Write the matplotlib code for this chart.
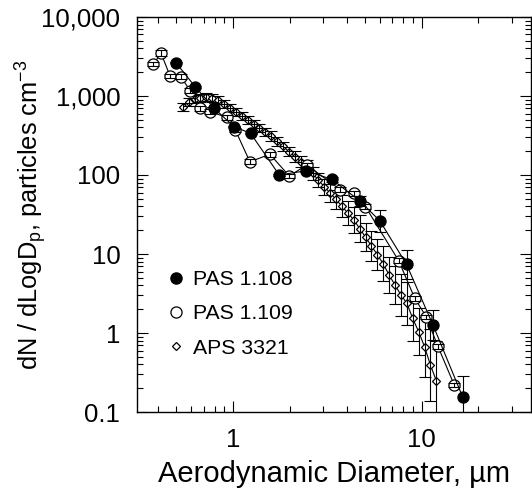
import numpy as np
import matplotlib
matplotlib.use("Agg")
import matplotlib.pyplot as plt
from matplotlib.lines import Line2D
from matplotlib.ticker import LogLocator, FixedLocator, FixedFormatter, NullFormatter

plt.rcParams['font.family'] = ['Liberation Sans', 'DejaVu Sans']
plt.rcParams['mathtext.fontset'] = 'custom'
plt.rcParams['mathtext.rm'] = 'Liberation Sans'

# PAS 1.108 (filled circles)
p108_d = [0.499, 0.630, 0.796, 1.01, 1.24, 1.76, 2.44, 3.35, 4.70, 6.0, 8.32, 11.5, 16.5]
p108_n = [2640, 1310, 698, 410, 337, 100, 113, 88, 47, 26.4, 7.4, 1.26, 0.156]
p108_h = [0.01, 0.01, 0.01, 0.01, 0.01, 0.01, 0.02, 0.03, 0.06, 0.14, 0.18, 0.19, 0.26]  # half width, decades

# PAS 1.109 (open circles)
p109_d = [0.379, 0.416, 0.464, 0.529, 0.593, 0.665, 0.757, 0.929, 1.03, 1.23, 1.57,
          1.99, 2.46, 3.71, 4.37, 5.04, 7.57, 9.2, 10.6, 12.2, 14.9]
p109_n = [2540, 3470, 1790, 1750, 1170, 698, 632, 537, 370, 147, 183,
          97, 134, 65, 58.6, 39.7, 8.2, 2.75, 1.6, 0.68, 0.22]
p109_h = [0.03, 0.04, 0.03, 0.03, 0.03, 0.03, 0.03, 0.03, 0.03, 0.03, 0.03,
          0.03, 0.03, 0.03, 0.03, 0.03, 0.03, 0.03, 0.03, 0.03, 0.03]

# APS 3321 (open diamonds)
aps_d = [0.542, 0.583, 0.626, 0.673, 0.723, 0.777, 0.835, 0.898, 0.965, 1.037, 1.114,
         1.197, 1.286, 1.382, 1.486, 1.596, 1.715, 1.843, 1.981, 2.129, 2.288, 2.458,
         2.642, 2.839, 3.051, 3.278, 3.523, 3.786, 4.068, 4.371, 4.698, 5.048, 5.425,
         5.829, 6.264, 6.732, 7.234, 7.774, 8.354, 8.977, 9.647, 10.37, 11.14, 11.97]
aps_n = [733, 850, 920, 950, 960, 940, 880, 790, 700, 620, 555,
         495, 440, 392, 350, 310, 267, 230, 198, 171, 147, 127,
         105, 86, 71, 59, 49, 40, 33, 27, 21, 16.3, 12.6,
         9.8, 7.5, 5.4, 4.05, 3.03, 2.38, 1.53, 1.04, 0.67, 0.394, 0.249]
aps_h = [0.05, 0.05, 0.05, 0.05, 0.05, 0.05, 0.05, 0.05, 0.05, 0.05, 0.05,
         0.05, 0.05, 0.05, 0.05, 0.06, 0.06, 0.06, 0.06, 0.07, 0.07, 0.08,
         0.08, 0.09, 0.10, 0.11, 0.12, 0.14, 0.15, 0.16, 0.17, 0.18, 0.19,
         0.20, 0.22, 0.23, 0.24, 0.26, 0.27, 0.28, 0.30, 0.38, 0.46, 0.50]

y_ticks = [0.1, 1, 10, 100, 1000, 10000]
y_labels = ['0.1', '1', '10', '100', '1,000', '10,000']
x_ticks = [1, 10]
x_labels = ['1', '10']


def log_err(vals, dec):
    vals = np.array(vals, dtype=float)
    dec = np.array(dec, dtype=float)
    return [vals - vals / 10 ** dec, vals * 10 ** dec - vals]


fig = plt.figure(figsize=(5.32, 4.99), dpi=100)
ax = fig.add_axes([0.2575, 0.1743, 0.7405, 0.7917])

series = [
    (aps_d, aps_n, aps_h, 'D', 4.2, 'white', 2),
    (p109_d, p109_n, p109_h, 'o', 8, 'white', 4),
    (p108_d, p108_n, p108_h, 'o', 8, 'black', 6),
]
for d, n, h, mk, ms, fc, z in series:
    ax.plot(d, n, '-', color='black', lw=0.8, marker=mk, ms=ms, mfc=fc,
            mec='black', mew=0.9, zorder=z)
    ax.errorbar(d, n, yerr=log_err(n, h), fmt='none', ecolor='black',
                elinewidth=0.8, capsize=4, capthick=0.8, zorder=z + 1)

ax.set_xscale('log')
ax.set_yscale('log')
ax.set_xlim(0.31, 38)
ax.set_ylim(0.1, 10000)

ax.xaxis.set_major_locator(FixedLocator(x_ticks))
ax.xaxis.set_major_formatter(FixedFormatter(x_labels))
ax.xaxis.set_minor_locator(LogLocator(base=10, subs=np.arange(2, 10)))
ax.xaxis.set_minor_formatter(NullFormatter())
ax.yaxis.set_major_locator(FixedLocator(y_ticks))
ax.yaxis.set_major_formatter(FixedFormatter(y_labels))
ax.yaxis.set_minor_locator(LogLocator(base=10, subs=np.arange(2, 10)))
ax.yaxis.set_minor_formatter(NullFormatter())

ax.tick_params(which='both', direction='in', top=True, right=True, width=0.8)
ax.tick_params(which='major', length=8, labelsize=18.5)
ax.tick_params(which='minor', length=4.5)
ax.tick_params(axis='x', which='major', pad=11.5)
ax.tick_params(axis='y', which='major', pad=12)
for s in ax.spines.values():
    s.set_linewidth(1.0)

ax.set_xlabel('Aerodynamic Diameter, µm', fontsize=21, labelpad=6)
ax.set_ylabel(r'dN / dLogD$_\mathregular{p}$, particles cm$^\mathregular{-3}$',
              fontsize=18.3)
ax.yaxis.set_label_coords(-0.223, 0.5)

handles = [
    Line2D([], [], ls='none', marker='o', ms=8, mfc='black', mec='black'),
    Line2D([], [], ls='none', marker='o', ms=8, mfc='white', mec='black', mew=0.9),
    Line2D([], [], ls='none', marker='D', ms=4.2, mfc='white', mec='black', mew=0.9),
]
ax.legend(handles, ['PAS 1.108', 'PAS 1.109', 'APS 3321'], loc='lower left',
          bbox_to_anchor=(0.0774, 0.138), frameon=False, fontsize=15.3,
          handlelength=0.8, handletextpad=0.4, labelspacing=0.71,
          borderpad=0, borderaxespad=0)

fig.savefig('out.png', dpi=100)
